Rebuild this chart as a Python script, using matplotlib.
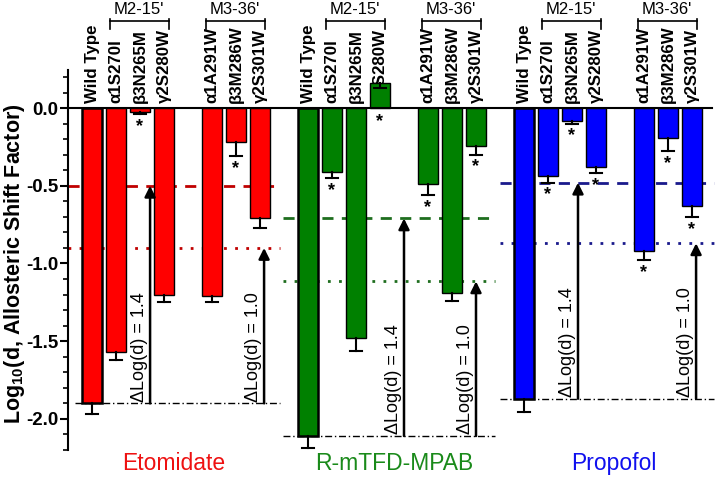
import matplotlib
matplotlib.use('Agg')
import matplotlib.pyplot as plt
import numpy as np

plt.rcParams['font.family'] = ['Liberation Sans', 'DejaVu Sans']
plt.rcParams['mathtext.fontset'] = 'custom'
plt.rcParams['mathtext.rm'] = 'Liberation Sans'
plt.rcParams['mathtext.bf'] = 'Liberation Sans:bold'

# ---- datos ----
mutantes = ['Wild Type', 'α1S270I', 'β3N265M', 'γ2S280W', 'α1A291W', 'β3M286W', 'γ2S301W']
farmacos = ['Etomidate', 'R-mTFD-MPAB', 'Propofol']

eto = [-1.90, -1.57, -0.025, -1.20, -1.21, -0.22, -0.71]
eto_err = [0.07, 0.05, 0.015, 0.045, 0.04, 0.09, 0.06]
eto_star = [0, 0, 1, 0, 0, 1, 0]

mpab = [-2.11, -0.41, -1.48, 0.16, -0.49, -1.19, -0.245]
mpab_err = [0.08, 0.04, 0.08, 0.03, 0.07, 0.05, 0.055]
mpab_star = [0, 1, 0, 1, 1, 0, 1]

prop = [-1.87, -0.44, -0.08, -0.38, -0.92, -0.195, -0.63]
prop_err = [0.085, 0.04, 0.02, 0.04, 0.06, 0.08, 0.07]
prop_star = [0, 1, 1, 1, 1, 1, 1]

# niveles de referencia (WT + 1.4 y WT + 1.0)
nivel_14 = [-0.50, -0.71, -0.48]
nivel_10 = [-0.90, -1.115, -0.87]
delta_txt = ['ΔLog(d) = 1.4', 'ΔLog(d) = 1.0']

# ---- estilo ----
colores = ['#ff0000', '#008000', '#0000ff']
col_lineas = ['#c00000', '#1e6e1e', '#1a1a8c']
col_texto = ['#ee1111', '#1a8a1a', '#1010ee']
slot_offsets = [0, 1, 2, 3, 5, 6, 7]
grupo_ini = [0, 9, 18]
tramos = [(-1.0, 7.85), (7.95, 16.8), (17.0, 25.9)]
flecha_x = [(2.42, 7.17), (13.0, 16.0), (20.25, 25.17)]
texto_x = [3.4, 12.6, 21.75]

fig = plt.figure(figsize=(7.17, 4.78), dpi=100)
ax = fig.add_axes([68 / 717, 1 - 450 / 478, 648 / 717, 380 / 478])
ax.set_xlim(-1, 26)
ax.set_ylim(-2.2, 0.245)

datos = [(eto, eto_err, eto_star), (mpab, mpab_err, mpab_star), (prop, prop_err, prop_star)]

for g, (vals, errs, stars) in enumerate(datos):
    xs = np.array(slot_offsets) + grupo_ini[g]
    for i, (x, v, e, s) in enumerate(zip(xs, vals, errs, stars)):
        lw_edge = 1.8 if i == 0 else 1.0
        ax.bar(x, v, width=0.84, color=colores[g], edgecolor='black',
               linewidth=lw_edge, zorder=3)
        # barra de error de un solo lado
        fin = v - e
        ax.plot([x, x], [v, fin], color='black', lw=1.5, zorder=4)
        ax.plot([x - 0.25, x + 0.25], [fin, fin], color='black', lw=1.5, zorder=4)
        if s:
            y_star = fin - 0.025 if v < 0 else -0.03
            ax.text(x, y_star, '*', ha='center', va='top', fontsize=13,
                    fontweight='bold', zorder=5)
        # etiqueta rotada encima del cero
        ax.text(x, 0.035, mutantes[i], rotation=90, ha='center', va='bottom',
                fontsize=12.2, fontweight='bold', zorder=2, clip_on=False)

    # corchetes M2-15' y M3-36'
    for (a, b), nombre in [((1, 3), "M2-15'"), ((5, 7), "M3-36'")]:
        x0 = grupo_ini[g] + a - 0.27
        x1 = grupo_ini[g] + b + 0.2
        yb = 0.56
        ax.plot([x0, x1], [yb, yb], color='black', lw=1.2, clip_on=False)
        for xx in (x0, x1):
            ax.plot([xx, xx], [yb + 0.015, yb - 0.05], color='black', lw=1.2, clip_on=False)
        ax.text((x0 + x1) / 2, 0.585, nombre, ha='center', va='bottom',
                fontsize=12, clip_on=False)

    # lineas de referencia
    t0, t1 = tramos[g]
    base = vals[0]
    ax.plot([t0, t1], [nivel_14[g]] * 2, color=col_lineas[g], lw=2,
            linestyle=(0, (4, 3)), zorder=1)
    ax.plot([t0, t1], [nivel_10[g]] * 2, color=col_lineas[g], lw=2,
            linestyle=(0, (1, 3)), zorder=1)
    dd0 = t0 + 0.3 if g == 0 else t0
    ax.plot([dd0, t1], [base] * 2, color='black', lw=1,
            linestyle=(0, (5, 2, 1, 2)), zorder=1)

    # flechas de diferencia
    for k, (xa, nivel) in enumerate(zip(flecha_x[g], [nivel_14[g], nivel_10[g]])):
        ax.annotate('', xy=(xa, nivel), xytext=(xa, base),
                    arrowprops=dict(arrowstyle='-|>', color='black', lw=1.8,
                                    mutation_scale=16, shrinkA=0, shrinkB=0),
                    zorder=6)
        ax.text(xa - 0.45, base + 0.01, delta_txt[k], rotation=90,
                ha='center', va='bottom', fontsize=13)

    ax.text(texto_x[g], -2.285, farmacos[g], ha='center', va='center',
            fontsize=16.5, color=col_texto[g], clip_on=False)

# linea del cero
ax.plot([-1, 25.85], [0, 0], color='black', lw=1.5, zorder=4)

# ejes
for lado in ['top', 'right', 'bottom']:
    ax.spines[lado].set_visible(False)
ax.spines['left'].set_linewidth(1.5)
ax.set_xticks([])
ax.set_yticks([0.0, -0.5, -1.0, -1.5, -2.0])
ax.set_yticklabels(['0.0', '-0.5', '-1.0', '-1.5', '-2.0'], fontweight='bold', fontsize=13.5)
ax.set_yticks(np.arange(-2.2, 0.25, 0.1), minor=True)
ax.tick_params(axis='y', which='major', length=6, width=1.5, direction='out', pad=1)
ax.tick_params(axis='y', which='minor', length=3.5, width=1.2, direction='out')
ax.set_ylabel(r'Log$_{\mathbf{10}}$(d, Allosteric Shift Factor)', fontsize=15.5,
              fontweight='bold')
ax.yaxis.set_label_coords(-0.064, 0.49)

fig.savefig('out.png', dpi=100)
